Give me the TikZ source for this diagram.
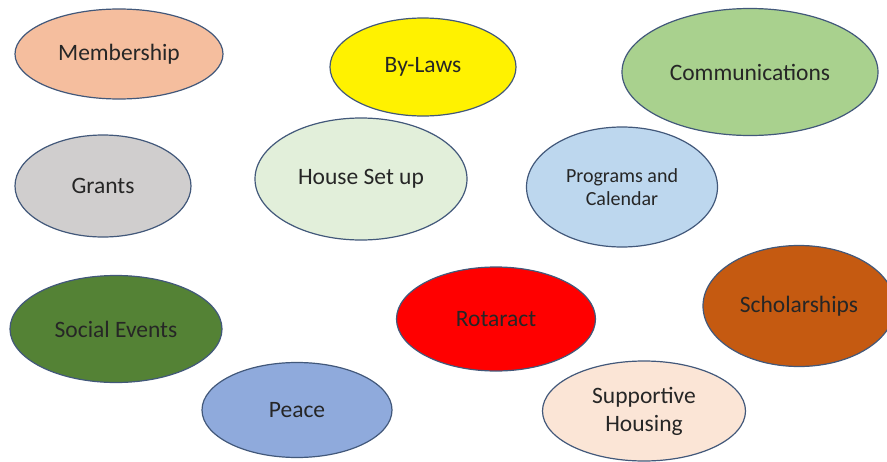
\documentclass[tikz,border=0pt]{standalone}
\usepackage{fontspec}
\setmainfont{Carlito}
\usepackage{tikz}
\usetikzlibrary{shapes.geometric}

\definecolor{rimblue}{HTML}{42587A}
\definecolor{txtgray}{HTML}{262626}
\definecolor{peach}{HTML}{F5BE9E}
\definecolor{lightgreen}{HTML}{A9D18E}
\definecolor{stonegray}{HTML}{D0CECE}
\definecolor{palegreen}{HTML}{E2EFDA}
\definecolor{paleblue}{HTML}{BDD7EE}
\definecolor{darkgreen}{HTML}{548235}
\definecolor{rust}{HTML}{C55A11}
\definecolor{softblue}{HTML}{8FAADC}
\definecolor{paleskin}{HTML}{FBE5D6}

\begin{document}
\begin{tikzpicture}[x = 1pt, y = -1pt,
  bubble/.style = {ellipse, draw = rimblue, line width = 1.2pt, inner sep = 0pt,
                   text = txtgray, align = center,
                   font = \fontsize{23.5}{28}\selectfont},
  smalltext/.style = {font = \fontsize{20}{23.5}\selectfont}]

\useasboundingbox (0,0) rectangle (887,461);

\node[bubble, fill = peach,      minimum width = 208pt, minimum height = 90pt]  (membership) at (119,54)  {Membership};
\node[bubble, fill = yellow,     minimum width = 186pt, minimum height = 98pt]  (bylaws)     at (423,67)  {By-Laws};
\node[bubble, fill = lightgreen, minimum width = 256pt, minimum height = 127pt] (comms)      at (750,72)  {Communications};
\node[bubble, fill = stonegray,  minimum width = 176pt, minimum height = 102pt] (grants)     at (103,186) {Grants};
\node[bubble, fill = palegreen,  minimum width = 212pt, minimum height = 122pt] (house)      at (361,179) {House Set up};
\node[bubble, fill = paleblue,   minimum width = 191pt, minimum height = 120pt, smalltext] (programs) at (622,187) {Programs and\\Calendar};
\node[bubble, fill = darkgreen,  minimum width = 212pt, minimum height = 107pt] (social)     at (116,329) {Social Events};
\node[bubble, fill = red,        minimum width = 199pt, minimum height = 104pt] (rotaract)   at (496,319) {Rotaract};
\node[bubble, fill = rust,       minimum width = 192pt, minimum height = 121pt] (scholar)    at (799,306) {Scholarships};
\node[bubble, fill = softblue,   minimum width = 190pt, minimum height = 95pt]  (peace)      at (297,410) {Peace};
\node[bubble, fill = paleskin,   minimum width = 203pt, minimum height = 100pt] (housing)    at (644,411) {Supportive\\Housing};

\end{tikzpicture}
\end{document}
